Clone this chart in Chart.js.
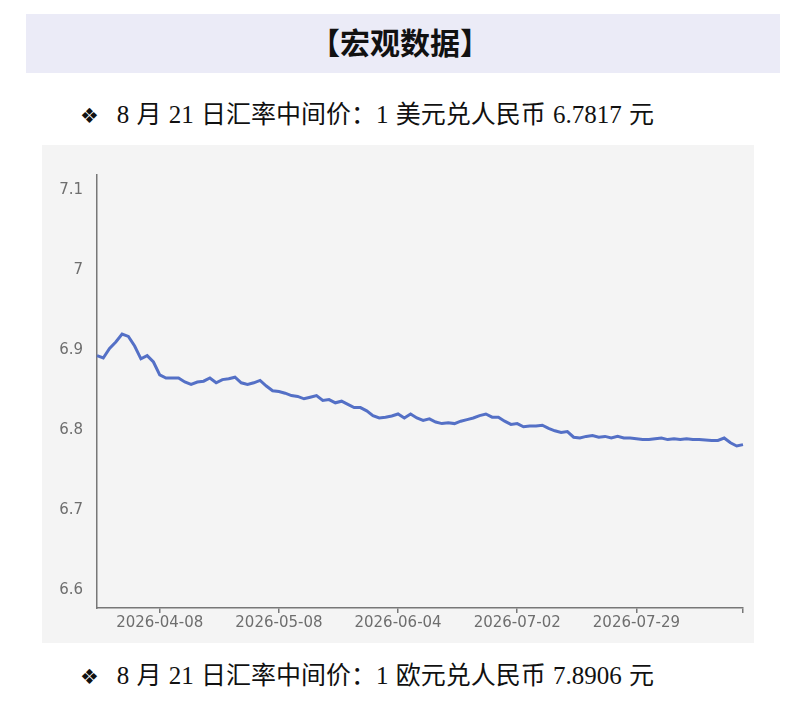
<!DOCTYPE html>
<html>
<head>
<meta charset="utf-8">
<script src="https://cdn.jsdelivr.net/npm/chart.js@4"></script>
<style>
  body { margin: 0; width: 800px; height: 708px; background: #fff; position: relative; overflow: hidden; }
  .band { position: absolute; left: 26px; top: 14px; width: 754px; height: 59px; background: #ebebf7; }
  .title { position: absolute; left: 0; top: 14px; width: 800px; height: 59px; line-height: 59px; text-align: center;
    font-family: "Liberation Serif", "Noto Sans CJK SC"; font-weight: bold; font-size: 30px; color: #111; }
  .note { position: absolute; left: 80px; font-family: "Liberation Serif", "Noto Sans CJK SC"; font-size: 25px; color: #111;
    word-spacing: 1px; white-space: nowrap; }
  .note .dia { font-family: "DejaVu Sans"; font-size: 21px; margin-right: 18px; }
  .box { position: absolute; left: 42px; top: 145px; width: 712px; height: 498px; background: #f4f4f4; }
</style>
</head>
<body>
<div class="band"></div>
<div class="title">【宏观数据】</div>
<div class="note" style="top: 94px;"><span class="dia">❖</span>8 月 21 日汇率中间价：1 美元兑人民币 6.7817 元</div>
<div class="box"><canvas id="rate"></canvas></div>
<div class="note" style="top: 655px;"><span class="dia">❖</span>8 月 21 日汇率中间价：1 欧元兑人民币 7.8906 元</div>
<script>
const dates = [
  "2026-03-24", "2026-03-25", "2026-03-26", "2026-03-27", "2026-03-30", "2026-03-31",
  "2026-04-01", "2026-04-02", "2026-04-03", "2026-04-07", "2026-04-08", "2026-04-09",
  "2026-04-10", "2026-04-13", "2026-04-14", "2026-04-15", "2026-04-16", "2026-04-17",
  "2026-04-20", "2026-04-21", "2026-04-22", "2026-04-23", "2026-04-24", "2026-04-27",
  "2026-04-28", "2026-04-29", "2026-04-30", "2026-05-06", "2026-05-07", "2026-05-08",
  "2026-05-11", "2026-05-12", "2026-05-13", "2026-05-14", "2026-05-15", "2026-05-18",
  "2026-05-19", "2026-05-20", "2026-05-21", "2026-05-22", "2026-05-25", "2026-05-26",
  "2026-05-27", "2026-05-28", "2026-05-29", "2026-06-01", "2026-06-02", "2026-06-03",
  "2026-06-04", "2026-06-05", "2026-06-08", "2026-06-09", "2026-06-10", "2026-06-11",
  "2026-06-12", "2026-06-15", "2026-06-16", "2026-06-17", "2026-06-18", "2026-06-22",
  "2026-06-23", "2026-06-24", "2026-06-25", "2026-06-26", "2026-06-29", "2026-06-30",
  "2026-07-01", "2026-07-02", "2026-07-03", "2026-07-06", "2026-07-07", "2026-07-08",
  "2026-07-09", "2026-07-10", "2026-07-13", "2026-07-14", "2026-07-15", "2026-07-16",
  "2026-07-17", "2026-07-20", "2026-07-21", "2026-07-22", "2026-07-23", "2026-07-24",
  "2026-07-27", "2026-07-28", "2026-07-29", "2026-07-30", "2026-07-31", "2026-08-03",
  "2026-08-04", "2026-08-05", "2026-08-06", "2026-08-07", "2026-08-10", "2026-08-11",
  "2026-08-12", "2026-08-13", "2026-08-14", "2026-08-17", "2026-08-18", "2026-08-19",
  "2026-08-20", "2026-08-21"
];

// USD/CNY central parity
const usdCny = [
  6.893, 6.890, 6.902, 6.910, 6.920, 6.917, 6.905, 6.889, 6.893, 6.885,
  6.869, 6.865, 6.865, 6.865, 6.860, 6.857, 6.860, 6.861, 6.865, 6.859,
  6.863, 6.864, 6.866, 6.859, 6.857, 6.859, 6.862, 6.855, 6.849, 6.848,
  6.846, 6.843, 6.842, 6.839, 6.841, 6.843, 6.837, 6.838, 6.834, 6.836,
  6.832, 6.828, 6.828, 6.824, 6.818, 6.815, 6.816, 6.8175, 6.820, 6.815,
  6.820, 6.815, 6.812, 6.814, 6.810, 6.808, 6.809, 6.808, 6.811, 6.813,
  6.815, 6.818, 6.820, 6.816, 6.816, 6.811, 6.807, 6.808, 6.804, 6.805,
  6.805, 6.806, 6.802, 6.799, 6.797, 6.798, 6.791, 6.790, 6.792, 6.793,
  6.791, 6.792, 6.790, 6.792, 6.790, 6.790, 6.789, 6.788, 6.788, 6.789,
  6.790, 6.788, 6.789, 6.788, 6.789, 6.788, 6.788, 6.7875, 6.787, 6.787,
  6.790, 6.784, 6.780, 6.7817
];

const yTicks = [6.6, 6.7, 6.8, 6.9, 7, 7.1];
const xTickDates = ["2026-04-08", "2026-05-08", "2026-06-04", "2026-07-02", "2026-07-29"];

const axisColor = "#777";
const labelColor = "#6e6e6e";

const ctx = document.getElementById("rate");

new Chart(ctx, {
  type: "line",
  data: {
    labels: dates,
    datasets: [
      {
        data: usdCny,
        borderColor: "#5470c6",
        borderWidth: 3,
        pointRadius: 0,
        tension: 0,
        fill: false,
      },
    ],
  },
  options: {
    responsive: true,
    maintainAspectRatio: false,
    animation: false,
    layout: { padding: { top: 30, right: 11, left: 0, bottom: 0 } },
    plugins: { legend: { display: false }, tooltip: { enabled: false } },
    scales: {
      x: {
        offset: false,
        afterBuildTicks: (s) => {
          const keep = xTickDates.map((d) => dates.indexOf(d));
          keep.push(dates.length - 1);
          s.ticks = keep.map((i) => ({ value: i }));
        },
        afterFit: (s) => { s.height = 35; },
        grid: { display: true, drawOnChartArea: false, drawTicks: true, tickLength: 5, color: axisColor, lineWidth: 1.5 },
        border: { display: true, color: axisColor, width: 1.5 },
        ticks: {
          autoSkip: false,
          maxRotation: 0,
          padding: 1,
          color: labelColor,
          font: { family: "DejaVu Sans", size: 15 },
          callback: function (v) {
            return v === dates.length - 1 ? "" : this.getLabelForValue(v);
          },
        },
      },
      y: {
        min: 6.5775,
        max: 7.11875,
        afterBuildTicks: (s) => { s.ticks = yTicks.map((v) => ({ value: v })); },
        afterFit: (s) => { s.width = 55; },
        grid: { display: false, drawTicks: false },
        border: { display: true, color: axisColor, width: 1.5 },
        ticks: {
          padding: 14,
          color: labelColor,
          font: { family: "DejaVu Sans", size: 15 },
          callback: (v) => String(v),
        },
      },
    },
  },
});
</script>
</body>
</html>
